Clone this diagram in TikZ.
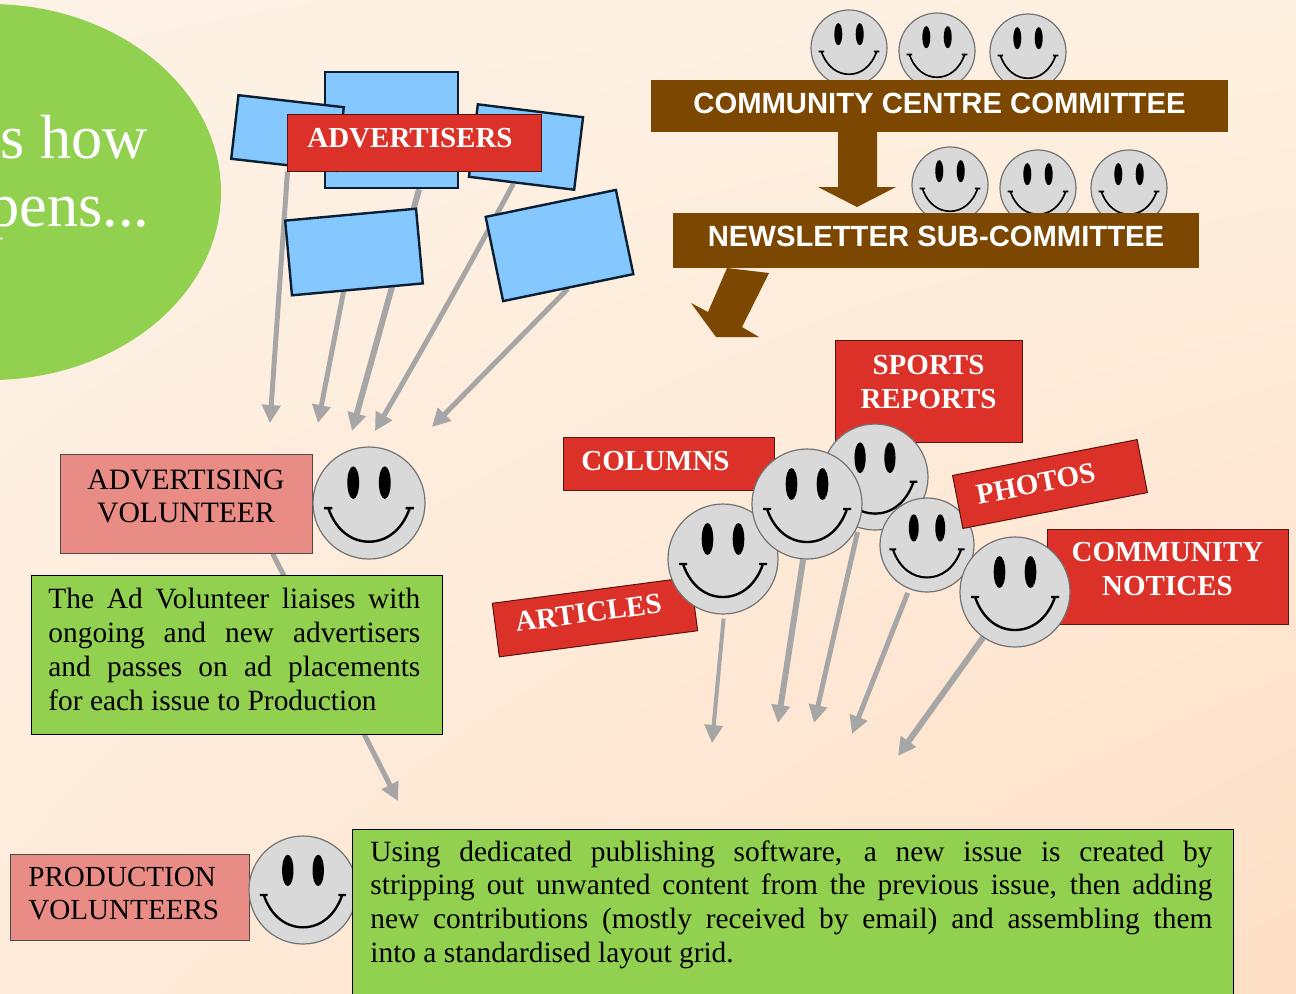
\documentclass[tikz,border=0pt]{standalone}
\usepackage{fontspec}
\setmainfont{Liberation Serif}
\newfontfamily\headfont{Liberation Sans}
\usetikzlibrary{arrows.meta,calc,shadings,shapes.geometric}
\definecolor{bgA}{HTML}{FDF2E6}
\definecolor{bgB}{HTML}{FEF0E0}
\definecolor{bgC}{HTML}{FEEBDA}
\definecolor{bgD}{HTML}{FEDFC6}
\definecolor{leaf}{HTML}{92D050}
\definecolor{sky}{HTML}{85C7FF}
\definecolor{brick}{HTML}{DC3128}
\definecolor{rose}{HTML}{E98C86}
\definecolor{cocoa}{HTML}{7C4700}
\definecolor{face}{HTML}{D9D9D9}
\definecolor{edge}{HTML}{0B1F33}
\pgfdeclarelayer{arrowlayer}
\pgfdeclarelayer{backlayer}
\pgfsetlayers{backlayer,arrowlayer,main}
\tikzset{
  x=0.5pt,y=-0.5pt,
  bluebox/.style={draw=edge,fill=sky,line width=1.2pt,inner sep=0pt},
  redbox/.style={draw=black!60!brick,fill=brick,line width=0.5pt,inner sep=0pt,text=white,align=center,font=\bfseries\fontsize{14.5}{16.7}\selectfont},
  brownbar/.style={fill=cocoa,inner sep=0pt,text=white,font=\headfont\bfseries\fontsize{14.62}{18}\selectfont},
  rosebox/.style={draw=black!70,fill=rose,line width=0.5pt,inner sep=0pt,align=center,font=\fontsize{14.8}{16.6}\selectfont},
  greenbox/.style={draw=black,fill=leaf,line width=0.5pt,inner sep=0pt},
  smile/.style={circle,draw=black!55,fill=face,line width=0.6pt,inner sep=0pt},
  feed/.style={draw=black!35,line width=2.5pt,-{Triangle[length=9pt,width=9pt]}},
  brownarrow/.style={fill=cocoa,draw=none},
  bodytext/.style={anchor=north west,inner sep=0pt,align=justify,font=\fontsize{14.7}{16.9}\selectfont},
  titletext/.style={text=white,inner sep=0pt,font=\fontsize{31.2}{34}\selectfont},
}
\newcommand{\liftby}[2]{\raisebox{#1}[\height][\depth]{#2}}
% name, x, y, radius in px
\newcommand{\smiley}[4]{%
  \node[smile,minimum size=#4*1pt] (#1) at (#2,#3) {};
  \begin{scope}[shift={(#2,#3)},x=#4/55*0.5pt,y=-#4/55*0.5pt]
    \fill[black] (-15.5,-20) ellipse [x radius=5.8,y radius=16];
    \fill[black] (15.5,-20) ellipse [x radius=5.8,y radius=16];
    \draw[black,line width=#4/55*1.2pt] (-44,5) -- (-36,5)
      (-40,5) .. controls (-32,28) and (-16,38) .. (0,38)
      .. controls (16,38) and (32,28) .. (40,5)
      (36,5) -- (44,5);
  \end{scope}
}
\begin{document}
\begin{tikzpicture}
\useasboundingbox (0,0) rectangle (1296,993);
\clip (0,0) rectangle (1296,993);
\begin{pgfonlayer}{backlayer}
  \shade[upper left=bgA,upper right=bgB,lower left=bgC,lower right=bgD] (0,0) rectangle (1296,993);
\end{pgfonlayer}

% green circle and its clipped title
\node[ellipse,fill=leaf,minimum width=231pt,minimum height=188pt,inner sep=0pt] (disc) at (-10,192) {};
\node[anchor=base east,titletext] (t1) at (148,158) {s how};
\node[anchor=base east,titletext] (t2) at (150,226) {pens...};

% advertisers
\node[bluebox,minimum width=66.5pt,minimum height=58pt] (bc) at (391.5,130) {};
\node[bluebox,minimum width=53pt,minimum height=32pt,rotate=-6.5] (bl) at (287.5,133) {};
\node[bluebox,minimum width=53pt,minimum height=36.5pt,rotate=-7] (br) at (526,147) {};
\node[redbox,minimum width=127pt,minimum height=28.5pt] (adv) at (414,142.5) {\liftby{2pt}{ADVERTISERS}\hspace*{4pt}};
\node[bluebox,minimum width=65.7pt,minimum height=37.5pt,rotate=5.2] (ll) at (354,252) {};
\node[bluebox,minimum width=66.5pt,minimum height=43pt,rotate=11.7] (lr) at (559.5,245.5) {};

\coordinate (a1) at (270,423);
\coordinate (a2) at (318,423);
\coordinate (a3) at (352,431);
\coordinate (a4) at (375,431);
\coordinate (a5) at (432,427);
\begin{pgfonlayer}{arrowlayer}
  \draw[feed] (adv.south west) ++(1,0) -- (a1);
  \draw[feed] (ll.-110.6) -- (a2);
  \draw[feed,line width=3pt] (bc.-65) -- (a3);
  \draw[feed] (br.-102) .. controls (470,265) and (425,345) .. (a4);
  \draw[feed] (lr.-91) -- (a5);
\end{pgfonlayer}

% committees
\smiley{s1}{849}{48}{38}
\smiley{s2}{937}{51}{38}
\smiley{s3}{1028}{52}{38}
\smiley{s4}{950}{185}{38}
\smiley{s5}{1038}{188}{38}
\smiley{s6}{1129}{188}{38}
\node[brownbar,minimum width=288.5pt,minimum height=26pt] (ccc) at (939.5,106) {\liftby{1.5pt}{COMMUNITY CENTRE COMMITTEE}};
\node[brownbar,minimum width=263pt,minimum height=27.5pt] (nsc) at (936,240.5) {\liftby{2pt}{NEWSLETTER SUB-COMMITTEE}};
\fill[brownarrow] (838,132) -- (877,132) -- (877,187) -- (896,187) -- (857,207) -- (818,187) -- (838,187) -- cycle;
\fill[brownarrow] (727,268) -- (769,273) -- (742,327) -- (759,337) -- (716,337) -- (691,303) -- (708,312) -- cycle;

% contributions
\node[redbox,minimum width=93.5pt,minimum height=51pt] (sports) at (928.5,391) {SPORTS\\REPORTS\\[-12.5pt]\strut};
\node[redbox,minimum width=105.5pt,minimum height=26.5pt] (columns) at (668.5,463.5) {\liftby{1pt}{COLUMNS}\hspace*{13pt}};
\node[redbox,minimum width=120.5pt,minimum height=47.5pt] (notices) at (1167.5,576.5) {COMMUNITY\\NOTICES\\[-13.9pt]\strut};
\node[redbox,minimum width=100pt,minimum height=27pt,rotate=7.5] (articles) at (595,617) {\liftby{2.5pt}{ARTICLES}\hspace*{6pt}};
\smiley{f3}{875}{477}{53}
\smiley{f4}{927}{545}{47}
\node[redbox,minimum width=94pt,minimum height=27pt,rotate=11] (photos) at (1050,484) {\liftby{1.5pt}{PHOTOS}\hspace*{14pt}};
\smiley{f1}{723}{559}{55}
\smiley{f2}{807}{504}{55}
\smiley{f5}{1015}{592}{55}

\coordinate (b1) at (712,743);
\coordinate (b2) at (778,723);
\coordinate (b3) at (814,723);
\coordinate (b4) at (852,734);
\coordinate (b5) at (898,756);
\begin{pgfonlayer}{arrowlayer}
  \draw[feed,line width=2pt,shorten <=2pt] (f1.-89) -- (b1);
  \draw[feed,line width=3pt] (f2.-94) -- (b2);
  \draw[feed,line width=2.5pt,shorten <=2pt] (f3.-108) -- (b3);
  \draw[feed,line width=2.5pt,shorten <=2pt] (f4.-112) -- (b4);
  \draw[feed,line width=3pt] (f5.-125) -- (b5);
\end{pgfonlayer}

% volunteers
\node[rosebox,minimum width=126pt,minimum height=49.5pt] (advvol) at (186,503.5) {ADVERTISING\\VOLUNTEER\\[-14pt]\strut};
\smiley{v1}{369}{503}{56}
\node[greenbox,minimum width=205.5pt,minimum height=79.5pt] (adbox) at (236.5,654.5) {};
\node[bodytext,text width=186pt] (adtext) at (48,588) {The Ad Volunteer liaises with\linebreak ongoing and new advertisers\linebreak and passes on ad placements\linebreak for each issue to Production};
\coordinate (toprod) at (398,801);
\begin{pgfonlayer}{arrowlayer}
  \draw[feed] (advvol.-30) -- (toprod);
\end{pgfonlayer}

\node[rosebox,minimum width=119.5pt,minimum height=43pt] (prodvol) at (129.5,897) {};
\node[anchor=north west,inner sep=0pt,align=left,font=\fontsize{14.55}{16.5}\selectfont] (prodtext) at (28,867) {PRODUCTION\\VOLUNTEERS};
\smiley{v2}{303}{890}{54}
\node[greenbox,minimum width=440.5pt,minimum height=100pt] (prodbox) at (792.5,929) {};
\node[bodytext,text width=421pt] (prodbody) at (370,840) {Using dedicated publishing software, a new issue is created by\linebreak stripping out unwanted content from the previous issue, then adding\linebreak new contributions (mostly received by email) and assembling them\linebreak into a standardised layout grid.};
\end{tikzpicture}
\end{document}
